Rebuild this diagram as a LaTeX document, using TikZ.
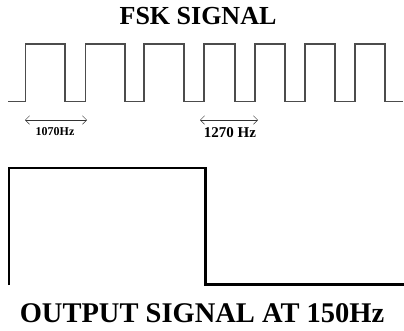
\documentclass[tikz,border=0pt]{standalone}
\usepackage{fontspec}
\setmainfont{Liberation Serif}
\usetikzlibrary{arrows.meta, positioning}

\begin{document}
\begin{tikzpicture}[
    x=1pt, y=-1pt,
    fskwave/.style={draw=black!70, line width=1.1pt, line join=miter},
    outwave/.style={draw=black, line width=2.6pt, line join=miter},
    freqarr/.style={{Straight Barb[length=1.5mm]}-{Straight Barb[length=1.5mm]}, draw=black!80, line width=0.5pt},
    freqlbl/.style={font=\bfseries, inner sep=0pt},
    titlelbl/.style={font=\bfseries, inner sep=0pt},
]
\useasboundingbox (0,0) rectangle (404,330);

\node[titlelbl, font=\fontsize{26}{28}\selectfont\bfseries] (fsktitle) at (198,16) {FSK SIGNAL};

% FSK waveform
\draw[fskwave] (8,101.5)
    \foreach \r/\f in {25.5/65,85.5/125,144/184,204/235,255/285,305/335,355/385}{
        -- (\r,101.5) -- (\r,44) -- (\f,44) -- (\f,101.5)}
    -- (403,101.5);

% frequency marks
\coordinate (lowa) at (25,120);
\coordinate (lowb) at (87,120);
\coordinate (higha) at (200,120);
\coordinate (highb) at (258,120);
\draw[freqarr] (lowa) -- (lowb);
\draw[freqarr] (higha) -- (highb);
\node[freqlbl, font=\fontsize{12}{13}\selectfont\bfseries] (lowlbl) at (55,132) {1070Hz};
\node[freqlbl, font=\fontsize{15}{17}\selectfont\bfseries] (highlbl) at (230,133) {1270 Hz};

% output waveform
\draw[outwave] (9,285) -- (9,168) -- (205.5,168) -- (205.5,284.5) -- (404,284.5);

\node[titlelbl, font=\fontsize{28.5}{31}\selectfont\bfseries] (outtitle) at (202,313) {OUTPUT SIGNAL AT 150Hz};
\end{tikzpicture}
\end{document}
